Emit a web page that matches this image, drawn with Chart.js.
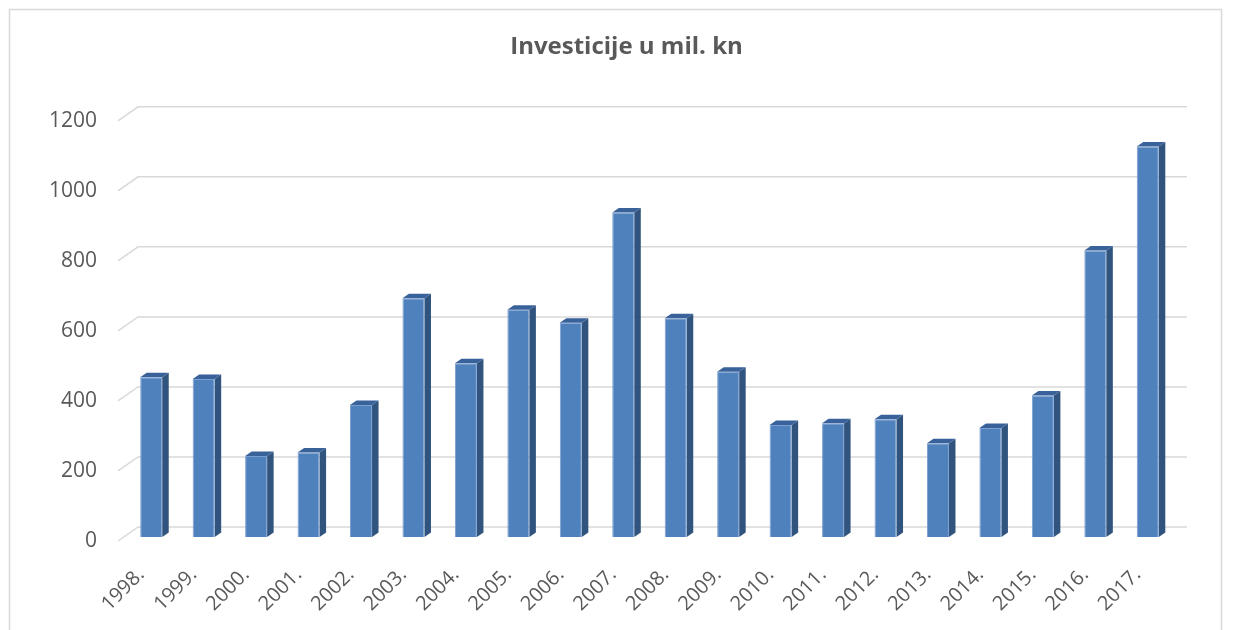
<!DOCTYPE html>
<html>
<head>
<meta charset="utf-8">
<script src="https://cdn.jsdelivr.net/npm/chart.js@4/dist/chart.umd.min.js"></script>
<style>
  html, body { margin: 0; padding: 0; background: #ffffff; }
  #wrap { width: 1233px; height: 630px; position: relative; }
</style>
</head>
<body>
<div id="wrap"><canvas id="c" width="1233" height="630"></canvas></div>
<script>
const categories = ['1998.', '1999.', '2000.', '2001.', '2002.', '2003.', '2004.', '2005.', '2006.', '2007.',
                    '2008.', '2009.', '2010.', '2011.', '2012.', '2013.', '2014.', '2015.', '2016.', '2017.'];
const investicije = [456, 451, 231, 241, 377, 682, 496, 649, 612, 927,
                     625, 472, 320, 325, 336, 268, 311, 404, 818, 1115];
const yTicks = [0, 200, 400, 600, 800, 1000, 1200];
const titleText = 'Investicije u mil. kn';

const FONT = '"Open Sans", "DejaVu Sans", sans-serif';
const TEXT_COLOR = '#595959';
const GRID_COLOR = '#D9D9D9';
const FRONT = '#4F81BD';
const SIDE = '#31547F';
const TOP = '#3A629A';
// 3D offsets relative to the bar plane (chart area)
const BAR_DX = 6.5, BAR_DY = -4.5;
const BACK_DX = 13, BACK_DY = -10;
const FRONT_DX = -7, FRONT_DY = 4;

const frame = {
  id: 'frame',
  beforeDraw(chart) {
    const ctx = chart.ctx;
    ctx.save();
    ctx.fillStyle = '#ffffff';
    ctx.fillRect(0, 0, chart.width, chart.height);
    ctx.strokeStyle = GRID_COLOR;
    ctx.lineWidth = 1.5;
    ctx.strokeRect(9.5, 9.5, 1212, 700);
    ctx.restore();
  }
};

const walls = {
  id: 'walls',
  beforeDatasetsDraw(chart) {
    const ctx = chart.ctx;
    const ys = chart.scales.y;
    const area = chart.chartArea;
    ctx.save();
    ctx.strokeStyle = GRID_COLOR;
    ctx.lineWidth = 1.5;
    yTicks.forEach(v => {
      const py = ys.getPixelForValue(v);
      ctx.beginPath();
      ctx.moveTo(area.left + FRONT_DX, py + FRONT_DY);
      ctx.lineTo(area.left + BACK_DX, py + BACK_DY);
      ctx.lineTo(area.right + BACK_DX, py + BACK_DY);
      ctx.stroke();
    });
    const meta = chart.getDatasetMeta(0);
    meta.data.forEach(bar => {
      const p = bar.getProps(['x', 'y', 'base', 'width'], true);
      const l = p.x - p.width / 2, r = p.x + p.width / 2;
      ctx.fillStyle = SIDE;
      ctx.beginPath();
      ctx.moveTo(r, p.y);
      ctx.lineTo(r + BAR_DX, p.y + BAR_DY);
      ctx.lineTo(r + BAR_DX, p.base + BAR_DY);
      ctx.lineTo(r, p.base);
      ctx.closePath();
      ctx.fill();
      ctx.fillStyle = TOP;
      ctx.beginPath();
      ctx.moveTo(l, p.y);
      ctx.lineTo(l + BAR_DX, p.y + BAR_DY);
      ctx.lineTo(r + BAR_DX, p.y + BAR_DY);
      ctx.lineTo(r, p.y);
      ctx.closePath();
      ctx.fill();
    });
    ctx.restore();
  }
};

new Chart(document.getElementById('c'), {
  type: 'bar',
  data: {
    labels: categories,
    datasets: [{
      label: titleText,
      data: investicije,
      backgroundColor: FRONT,
      borderColor: 'rgba(110,150,205,0.9)',
      borderWidth: 1,
      borderSkipped: 'bottom',
      barPercentage: 0.42,
      categoryPercentage: 1.0,
      yAxisID: 'y'
    }]
  },
  options: {
    responsive: false,
    animation: false,
    devicePixelRatio: 1,
    layout: { padding: { left: 20, right: 0, top: 0, bottom: 0 } },
    plugins: {
      legend: { display: false },
      tooltip: { enabled: false },
      title: {
        display: true,
        text: titleText,
        color: TEXT_COLOR,
        font: { family: FONT, size: 24, weight: 'bold' },
        padding: { top: 33, bottom: 55 }
      }
    },
    scales: {
      x: {
        grid: { display: false, drawTicks: false },
        border: { display: false },
        ticks: {
          color: TEXT_COLOR,
          font: { family: FONT, size: 20 },
          minRotation: 45,
          maxRotation: 45,
          autoSkip: false,
          padding: 26,
          labelOffset: -10
        },
        afterFit(scale) { scale.height = 93; }
      },
      y: {
        min: 0,
        max: 1200,
        grid: { display: false, drawTicks: false },
        border: { display: false },
        afterBuildTicks(scale) { scale.ticks = yTicks.map(v => ({ value: v })); },
        ticks: {
          color: TEXT_COLOR,
          font: { family: FONT, size: 21 },
          padding: 28,
          labelOffset: 4,
          callback: v => String(v)
        },
        afterFit(scale) { scale.width = 105; }
      },
      yRight: {
        type: 'linear',
        position: 'right',
        min: 0,
        max: 1200,
        grid: { display: false, drawTicks: false },
        border: { display: false },
        ticks: { display: false },
        afterFit(scale) { scale.width = 59; }
      }
    }
  },
  plugins: [frame, walls]
});
</script>
</body>
</html>
